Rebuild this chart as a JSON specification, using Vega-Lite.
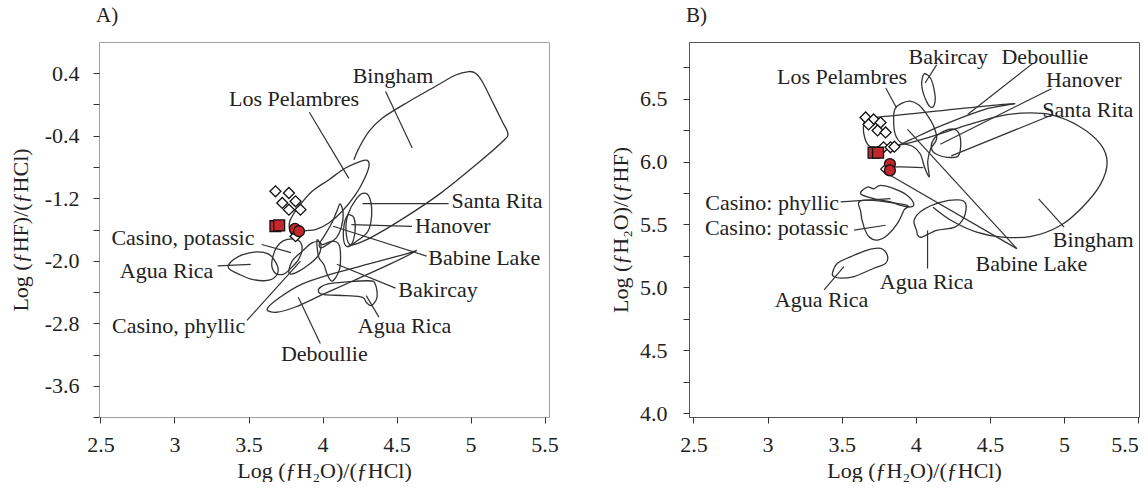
{
  "$schema": "https://vega.github.io/schema/vega-lite/v6.json",
  "background": "white",
  "padding": {"left": 8, "right": 0, "top": 4, "bottom": 0},
  "spacing": 50,
  "config": {
    "font": "Liberation Serif",
    "axis": {"labelFont": "Liberation Serif", "titleFont": "Liberation Serif", "labelFontSize": 22, "titleFontSize": 22, "titleFontWeight": "normal", "labelColor": "#222", "titleColor": "#222", "tickColor": "#333", "domain": false, "grid": false, "tickSize": 6},
    "title": {"font": "Liberation Serif", "fontSize": 21, "fontWeight": "normal", "anchor": "start", "frame": "group", "color": "#222"},
    "text": {"font": "Liberation Serif", "fontSize": 22, "color": "#222"}
  },
  "datasets": {
    "shapesA": [
      {"s":"LP","i":0,"x":3.795,"y":-1.430},{"s":"LP","i":1,"x":3.841,"y":-1.302},{"s":"LP","i":2,"x":3.930,"y":-1.111},{"s":"LP","i":3,"x":4.043,"y":-0.963},{"s":"LP","i":4,"x":4.155,"y":-0.813},{"s":"LP","i":5,"x":4.257,"y":-0.728},{"s":"LP","i":6,"x":4.302,"y":-0.715},{"s":"LP","i":7,"x":4.314,"y":-0.792},{"s":"LP","i":8,"x":4.280,"y":-0.963},{"s":"LP","i":9,"x":4.223,"y":-1.154},{"s":"LP","i":10,"x":4.133,"y":-1.366},{"s":"LP","i":11,"x":4.043,"y":-1.516},{"s":"LP","i":12,"x":3.953,"y":-1.601},{"s":"LP","i":13,"x":3.874,"y":-1.622},{"s":"LP","i":14,"x":3.836,"y":-1.707},{"s":"LP","i":15,"x":3.789,"y":-1.656},{"s":"LP","i":16,"x":3.775,"y":-1.528},
      {"s":"SR","i":0,"x":4.282,"y":-1.135},{"s":"SR","i":1,"x":4.319,"y":-1.199},{"s":"SR","i":2,"x":4.332,"y":-1.411},{"s":"SR","i":3,"x":4.307,"y":-1.622},{"s":"SR","i":4,"x":4.232,"y":-1.748},{"s":"SR","i":5,"x":4.183,"y":-1.792},{"s":"SR","i":6,"x":4.159,"y":-1.622},{"s":"SR","i":7,"x":4.171,"y":-1.411},{"s":"SR","i":8,"x":4.232,"y":-1.199},
      {"s":"HA","i":0,"x":4.183,"y":-1.411},{"s":"HA","i":1,"x":4.213,"y":-1.452},{"s":"HA","i":2,"x":4.220,"y":-1.622},{"s":"HA","i":3,"x":4.195,"y":-1.792},{"s":"HA","i":4,"x":4.159,"y":-1.812},{"s":"HA","i":5,"x":4.141,"y":-1.706},{"s":"HA","i":6,"x":4.146,"y":-1.537},{"s":"HA","i":7,"x":4.164,"y":-1.431},
      {"s":"BL","i":0,"x":4.120,"y":-1.273},{"s":"BL","i":1,"x":4.140,"y":-1.401},{"s":"BL","i":2,"x":4.126,"y":-1.580},{"s":"BL","i":3,"x":4.093,"y":-1.707},{"s":"BL","i":4,"x":4.039,"y":-1.784},{"s":"BL","i":5,"x":3.991,"y":-1.835},{"s":"BL","i":6,"x":3.978,"y":-1.784},{"s":"BL","i":7,"x":4.012,"y":-1.682},{"s":"BL","i":8,"x":4.066,"y":-1.503},{"s":"BL","i":9,"x":4.100,"y":-1.350},
      {"s":"BK","i":0,"x":3.964,"y":-1.729},{"s":"BK","i":1,"x":3.998,"y":-1.793},{"s":"BK","i":2,"x":4.066,"y":-1.749},{"s":"BK","i":3,"x":4.111,"y":-1.793},{"s":"BK","i":4,"x":4.122,"y":-1.963},{"s":"BK","i":5,"x":4.111,"y":-2.133},{"s":"BK","i":6,"x":4.066,"y":-2.260},{"s":"BK","i":7,"x":4.032,"y":-2.176},{"s":"BK","i":8,"x":4.009,"y":-2.048},{"s":"BK","i":9,"x":3.976,"y":-1.963},{"s":"BK","i":10,"x":3.964,"y":-1.835},
      {"s":"CP","i":0,"x":3.660,"y":-1.988},{"s":"CP","i":1,"x":3.687,"y":-1.835},{"s":"CP","i":2,"x":3.734,"y":-1.746},{"s":"CP","i":3,"x":3.802,"y":-1.720},{"s":"CP","i":4,"x":3.849,"y":-1.758},{"s":"CP","i":5,"x":3.862,"y":-1.861},{"s":"CP","i":6,"x":3.836,"y":-1.988},{"s":"CP","i":7,"x":3.789,"y":-2.090},{"s":"CP","i":8,"x":3.741,"y":-2.167},{"s":"CP","i":9,"x":3.687,"y":-2.167},{"s":"CP","i":10,"x":3.660,"y":-2.090},
      {"s":"CY","i":0,"x":3.773,"y":-2.154},{"s":"CY","i":1,"x":3.795,"y":-2.005},{"s":"CY","i":2,"x":3.863,"y":-1.877},{"s":"CY","i":3,"x":3.930,"y":-1.771},{"s":"CY","i":4,"x":3.986,"y":-1.771},{"s":"CY","i":5,"x":3.976,"y":-1.921},{"s":"CY","i":6,"x":3.908,"y":-2.048},{"s":"CY","i":7,"x":3.818,"y":-2.154},
      {"s":"AL","i":0,"x":3.363,"y":-2.065},{"s":"AL","i":1,"x":3.397,"y":-1.988},{"s":"AL","i":2,"x":3.457,"y":-1.924},{"s":"AL","i":3,"x":3.559,"y":-1.886},{"s":"AL","i":4,"x":3.633,"y":-1.912},{"s":"AL","i":5,"x":3.674,"y":-1.988},{"s":"AL","i":6,"x":3.701,"y":-2.116},{"s":"AL","i":7,"x":3.674,"y":-2.218},{"s":"AL","i":8,"x":3.606,"y":-2.256},{"s":"AL","i":9,"x":3.511,"y":-2.231},{"s":"AL","i":10,"x":3.430,"y":-2.167},{"s":"AL","i":11,"x":3.376,"y":-2.116},
      {"s":"DB","i":0,"x":3.626,"y":-2.617},{"s":"DB","i":1,"x":3.713,"y":-2.468},{"s":"DB","i":2,"x":3.861,"y":-2.299},{"s":"DB","i":3,"x":4.059,"y":-2.172},{"s":"DB","i":4,"x":4.307,"y":-2.044},{"s":"DB","i":5,"x":4.554,"y":-1.918},{"s":"DB","i":6,"x":4.630,"y":-1.875},{"s":"DB","i":7,"x":4.455,"y":-2.044},{"s":"DB","i":8,"x":4.208,"y":-2.256},{"s":"DB","i":9,"x":4.010,"y":-2.425},{"s":"DB","i":10,"x":3.812,"y":-2.595},{"s":"DB","i":11,"x":3.689,"y":-2.659},
      {"s":"AR","i":0,"x":3.985,"y":-2.341},{"s":"AR","i":1,"x":4.059,"y":-2.290},{"s":"AR","i":2,"x":4.307,"y":-2.256},{"s":"AR","i":3,"x":4.356,"y":-2.299},{"s":"AR","i":4,"x":4.368,"y":-2.468},{"s":"AR","i":5,"x":4.331,"y":-2.573},{"s":"AR","i":6,"x":4.295,"y":-2.531},{"s":"AR","i":7,"x":4.270,"y":-2.468},{"s":"AR","i":8,"x":4.158,"y":-2.447},{"s":"AR","i":9,"x":4.010,"y":-2.434},{"s":"AR","i":10,"x":3.975,"y":-2.405}
    ],
    "openA": [
      {"s":"BI","i":0,"x":4.212,"y":-0.707},{"s":"BI","i":1,"x":4.246,"y":-0.558},{"s":"BI","i":2,"x":4.314,"y":-0.345},{"s":"BI","i":3,"x":4.403,"y":-0.175},{"s":"BI","i":4,"x":4.584,"y":0.039},{"s":"BI","i":5,"x":4.741,"y":0.208},{"s":"BI","i":6,"x":4.899,"y":0.378},{"s":"BI","i":7,"x":4.989,"y":0.422},{"s":"BI","i":8,"x":5.034,"y":0.400},{"s":"BI","i":9,"x":5.079,"y":0.294},{"s":"BI","i":10,"x":5.147,"y":0.039},{"s":"BI","i":11,"x":5.214,"y":-0.217},{"s":"BI","i":12,"x":5.252,"y":-0.370},{"s":"BI","i":13,"x":5.222,"y":-0.463},{"s":"BI","i":14,"x":5.049,"y":-0.751},{"s":"BI","i":15,"x":4.801,"y":-1.131},{"s":"BI","i":16,"x":4.554,"y":-1.448},{"s":"BI","i":17,"x":4.307,"y":-1.723},{"s":"BI","i":18,"x":4.171,"y":-1.816}
    ],
    "leadersA": [
      {"x":4.426,"y":0.166,"x2":4.606,"y2":-0.558},
      {"x":3.911,"y":-0.099,"x2":4.178,"y2":-0.945},
      {"x":4.270,"y":-1.27,"x2":4.852,"y2":-1.27},
      {"x":4.195,"y":-1.537,"x2":4.604,"y2":-1.559},
      {"x":4.072,"y":-1.559,"x2":4.703,"y2":-1.94},
      {"x":4.097,"y":-2.044,"x2":4.493,"y2":-2.35},
      {"x":4.295,"y":-2.447,"x2":4.381,"y2":-2.721},
      {"x":3.836,"y":-2.468,"x2":3.985,"y2":-3.060},
      {"x":3.851,"y":-2.005,"x2":3.490,"y2":-2.763},
      {"x":3.589,"y":-1.792,"x2":3.787,"y2":-1.896},
      {"x":3.292,"y":-2.066,"x2":3.515,"y2":-2.047}
    ],
    "labelsA": [
      {"t":"Bingham","x":4.476,"y":0.37,"a":"center"},
      {"t":"Los Pelambres","x":3.808,"y":0.07,"a":"center"},
      {"t":"Santa Rita","x":4.871,"y":-1.24,"a":"left"},
      {"t":"Hanover","x":4.624,"y":-1.56,"a":"left"},
      {"t":"Babine Lake","x":4.715,"y":-1.96,"a":"left"},
      {"t":"Bakircay","x":4.512,"y":-2.37,"a":"left"},
      {"t":"Agua Rica","x":4.554,"y":-2.83,"a":"center"},
      {"t":"Deboullie","x":4.012,"y":-3.19,"a":"center"},
      {"t":"Casino, phyllic","x":3.478,"y":-2.83,"a":"right"},
      {"t":"Agua Rica","x":3.262,"y":-2.13,"a":"right"},
      {"t":"Casino, potassic","x":3.540,"y":-1.71,"a":"right"}
    ],
    "pointsA": [
      {"k":"diamond","x":3.818,"y":-1.686},
      {"k":"diamond","x":3.682,"y":-1.111},{"k":"diamond","x":3.773,"y":-1.133},{"k":"diamond","x":3.728,"y":-1.260},{"k":"diamond","x":3.818,"y":-1.239},{"k":"diamond","x":3.773,"y":-1.346},{"k":"diamond","x":3.851,"y":-1.346},
      {"k":"square","x":3.682,"y":-1.558},{"k":"square","x":3.707,"y":-1.548},
      {"k":"circle","x":3.814,"y":-1.592},{"k":"circle","x":3.841,"y":-1.622}
    ],
    "shapesB": [
      {"s":"BK","i":0,"x":4.055,"y":6.695},{"s":"BK","i":1,"x":4.10,"y":6.66},{"s":"BK","i":2,"x":4.125,"y":6.56},{"s":"BK","i":3,"x":4.13,"y":6.48},{"s":"BK","i":4,"x":4.11,"y":6.43},{"s":"BK","i":5,"x":4.075,"y":6.47},{"s":"BK","i":6,"x":4.04,"y":6.60},
      {"s":"CY","i":0,"x":3.628,"y":5.744},{"s":"CY","i":1,"x":3.673,"y":5.797},{"s":"CY","i":2,"x":3.717,"y":5.784},{"s":"CY","i":3,"x":3.762,"y":5.810},{"s":"CY","i":4,"x":3.852,"y":5.784},{"s":"CY","i":5,"x":3.942,"y":5.731},{"s":"CY","i":6,"x":3.986,"y":5.665},{"s":"CY","i":7,"x":3.964,"y":5.639},{"s":"CY","i":8,"x":3.897,"y":5.652},{"s":"CY","i":9,"x":3.830,"y":5.679},{"s":"CY","i":10,"x":3.728,"y":5.702},
      {"s":"CP","i":0,"x":3.639,"y":5.692},{"s":"CP","i":1,"x":3.628,"y":5.600},{"s":"CP","i":2,"x":3.650,"y":5.481},{"s":"CP","i":3,"x":3.684,"y":5.402},{"s":"CP","i":4,"x":3.740,"y":5.376},{"s":"CP","i":5,"x":3.807,"y":5.415},{"s":"CP","i":6,"x":3.875,"y":5.507},{"s":"CP","i":7,"x":3.919,"y":5.613},{"s":"CP","i":8,"x":3.930,"y":5.655},
      {"s":"AL","i":0,"x":3.437,"y":5.112},{"s":"AL","i":1,"x":3.471,"y":5.191},{"s":"AL","i":2,"x":3.561,"y":5.244},{"s":"AL","i":3,"x":3.673,"y":5.297},{"s":"AL","i":4,"x":3.762,"y":5.310},{"s":"AL","i":5,"x":3.807,"y":5.257},{"s":"AL","i":6,"x":3.796,"y":5.191},{"s":"AL","i":7,"x":3.717,"y":5.152},{"s":"AL","i":8,"x":3.583,"y":5.086},{"s":"AL","i":9,"x":3.493,"y":5.073},{"s":"AL","i":10,"x":3.448,"y":5.086},
      {"s":"AR","i":0,"x":4.005,"y":5.453},{"s":"AR","i":1,"x":3.988,"y":5.532},{"s":"AR","i":2,"x":4.042,"y":5.611},{"s":"AR","i":3,"x":4.165,"y":5.676},{"s":"AR","i":4,"x":4.288,"y":5.695},{"s":"AR","i":5,"x":4.337,"y":5.663},{"s":"AR","i":6,"x":4.325,"y":5.558},{"s":"AR","i":7,"x":4.263,"y":5.479},{"s":"AR","i":8,"x":4.140,"y":5.453},{"s":"AR","i":9,"x":4.042,"y":5.400},{"s":"AR","i":10,"x":4.013,"y":5.413},
      {"s":"HS","i":0,"x":4.19,"y":6.242},{"s":"HS","i":1,"x":4.263,"y":6.255},{"s":"HS","i":2,"x":4.30,"y":6.189},{"s":"HS","i":3,"x":4.293,"y":6.058},{"s":"HS","i":4,"x":4.239,"y":6.032},{"s":"HS","i":5,"x":4.140,"y":6.058},{"s":"HS","i":6,"x":4.104,"y":6.111},{"s":"HS","i":7,"x":4.128,"y":6.189},
      {"s":"LP","i":0,"x":3.85,"y":6.34},{"s":"LP","i":1,"x":3.86,"y":6.42},{"s":"LP","i":2,"x":3.90,"y":6.46},{"s":"LP","i":3,"x":3.96,"y":6.48},{"s":"LP","i":4,"x":4.02,"y":6.45},{"s":"LP","i":5,"x":4.07,"y":6.38},{"s":"LP","i":6,"x":4.12,"y":6.28},{"s":"LP","i":7,"x":4.14,"y":6.18},{"s":"LP","i":8,"x":4.10,"y":6.10},{"s":"LP","i":9,"x":4.08,"y":6.00},{"s":"LP","i":10,"x":4.09,"y":5.88},{"s":"LP","i":11,"x":4.06,"y":5.95},{"s":"LP","i":12,"x":4.03,"y":6.06},{"s":"LP","i":13,"x":3.98,"y":6.12},{"s":"LP","i":14,"x":3.90,"y":6.15},{"s":"LP","i":15,"x":3.86,"y":6.22},
      {"s":"DB","i":0,"x":3.748,"y":6.353},{"s":"DB","i":1,"x":4.632,"y":6.458},{"s":"DB","i":2,"x":4.460,"y":6.413},{"s":"DB","i":3,"x":4.165,"y":6.282},{"s":"DB","i":4,"x":3.969,"y":6.176},{"s":"DB","i":5,"x":3.870,"y":6.124},{"s":"DB","i":6,"x":3.772,"y":6.111},{"s":"DB","i":7,"x":3.686,"y":6.124},{"s":"DB","i":8,"x":3.650,"y":6.216},{"s":"DB","i":9,"x":3.655,"y":6.321},{"s":"DB","i":10,"x":3.700,"y":6.353}
    ],
    "openB": [
      {"s":"BI","i":0,"x":3.870,"y":6.124},{"s":"BI","i":1,"x":4.042,"y":6.176},{"s":"BI","i":2,"x":4.288,"y":6.268},{"s":"BI","i":3,"x":4.533,"y":6.353},{"s":"BI","i":4,"x":4.705,"y":6.384},{"s":"BI","i":5,"x":4.902,"y":6.374},{"s":"BI","i":6,"x":5.098,"y":6.282},{"s":"BI","i":7,"x":5.246,"y":6.137},{"s":"BI","i":8,"x":5.290,"y":5.992},{"s":"BI","i":9,"x":5.246,"y":5.821},{"s":"BI","i":10,"x":5.123,"y":5.637},{"s":"BI","i":11,"x":4.975,"y":5.492},{"s":"BI","i":12,"x":4.779,"y":5.405},{"s":"BI","i":13,"x":4.583,"y":5.400},{"s":"BI","i":14,"x":4.411,"y":5.439},{"s":"BI","i":15,"x":4.239,"y":5.532},{"s":"BI","i":16,"x":4.116,"y":5.637},
      {"s":"BL","i":0,"x":3.80,"y":5.955},{"s":"BL","i":1,"x":3.90,"y":5.958},{"s":"BL","i":2,"x":4.05,"y":5.952}
    ],
    "leadersB": [
      {"x":4.140,"y":6.768,"x2":4.062,"y2":6.624},
      {"x":4.791,"y":6.782,"x2":4.349,"y2":6.374},
      {"x":3.797,"y":6.584,"x2":3.870,"y2":6.426},
      {"x":4.914,"y":6.579,"x2":4.165,"y2":6.137},
      {"x":4.926,"y":6.374,"x2":4.239,"y2":6.045},
      {"x":3.493,"y":5.679,"x2":3.829,"y2":5.705},
      {"x":3.583,"y":5.455,"x2":3.796,"y2":5.494},
      {"x":3.515,"y":5.165,"x2":3.381,"y2":4.981},
      {"x":4.079,"y":5.453,"x2":4.079,"y2":5.150},
      {"x":5.0,"y":5.479,"x2":4.828,"y2":5.703},
      {"x":4.681,"y":5.308,"x2":3.944,"y2":6.255},
      {"x":4.681,"y":5.308,"x2":3.821,"y2":5.895}
    ],
    "labelsB": [
      {"t":"Bakircay","x":4.219,"y":6.834,"a":"center"},
      {"t":"Deboullie","x":4.870,"y":6.834,"a":"center"},
      {"t":"Los Pelambres","x":3.502,"y":6.668,"a":"center"},
      {"t":"Hanover","x":4.877,"y":6.650,"a":"left"},
      {"t":"Santa Rita","x":4.853,"y":6.413,"a":"left"},
      {"t":"Casino: phyllic","x":3.482,"y":5.668,"a":"right"},
      {"t":"Casino: potassic","x":3.546,"y":5.474,"a":"right"},
      {"t":"Agua Rica","x":3.364,"y":4.90,"a":"center"},
      {"t":"Agua Rica","x":4.072,"y":5.045,"a":"center"},
      {"t":"Bingham","x":5.196,"y":5.374,"a":"center"},
      {"t":"Babine Lake","x":4.779,"y":5.189,"a":"center"}
    ],
    "pointsB": [
      {"k":"diamond","x":3.80,"y":5.94},
      {"k":"diamond","x":3.661,"y":6.350},{"k":"diamond","x":3.715,"y":6.334},{"k":"diamond","x":3.681,"y":6.295},{"k":"diamond","x":3.762,"y":6.310},{"k":"diamond","x":3.742,"y":6.247},{"k":"diamond","x":3.796,"y":6.231},{"k":"diamond","x":3.782,"y":6.113},{"k":"diamond","x":3.829,"y":6.113},{"k":"diamond","x":3.855,"y":6.118},
      {"k":"square","x":3.715,"y":6.07},{"k":"square","x":3.745,"y":6.07},
      {"k":"circle","x":3.825,"y":5.98},{"k":"circle","x":3.825,"y":5.93}
    ]
  },
  "hconcat": [
    {
      "title": {"text": "A)", "offset": 16, "dx": -3},
      "width": 450, "height": 375,
      "view": {"stroke": "#a0a0a0"},
      "encoding": {
        "x": {"field": "x", "type": "quantitative", "scale": {"domain": [2.49, 5.53], "nice": false, "zero": false},
              "axis": {"title": "Log (ƒH₂O)/(ƒHCl)", "values": [2.5, 3, 3.5, 4, 4.5, 5, 5.5], "format": "~g", "labelPadding": 11, "titlePadding": 5}},
        "y": {"field": "y", "type": "quantitative", "scale": {"domain": [-4.0, 0.8], "nice": false, "zero": false},
              "axis": {"title": "Log (ƒHF)/(ƒHCl)", "values": [-4.0, -3.6, -3.2, -2.8, -2.4, -2.0, -1.6, -1.2, -0.8, -0.4, 0, 0.4], "labelExpr": "(round(datum.value*10)+36) % 8 == 0 ? replace(format(datum.value, '.1f'), '\u2212', '-') : ''", "labelPadding": 14, "titlePadding": 12}}
      },
      "layer": [
        {"data": {"name": "shapesA"}, "mark": {"type": "line", "interpolate": "cardinal-closed", "color": "#333", "strokeWidth": 1.3},
         "encoding": {"detail": {"field": "s"}, "order": {"field": "i", "type": "quantitative"}}},
        {"data": {"name": "openA"}, "mark": {"type": "line", "interpolate": "cardinal", "color": "#333", "strokeWidth": 1.3},
         "encoding": {"detail": {"field": "s"}, "order": {"field": "i", "type": "quantitative"}}},
        {"data": {"name": "leadersA"}, "mark": {"type": "rule", "color": "#333", "strokeWidth": 1.2},
         "encoding": {"x2": {"field": "x2"}, "y2": {"field": "y2"}}},
        {"data": {"name": "labelsA"}, "transform": [{"filter": "datum.a == 'left'"}], "mark": {"type": "text", "align": "left", "baseline": "middle"}, "encoding": {"text": {"field": "t"}}},
        {"data": {"name": "labelsA"}, "transform": [{"filter": "datum.a == 'center'"}], "mark": {"type": "text", "align": "center", "baseline": "middle"}, "encoding": {"text": {"field": "t"}}},
        {"data": {"name": "labelsA"}, "transform": [{"filter": "datum.a == 'right'"}], "mark": {"type": "text", "align": "right", "baseline": "middle"}, "encoding": {"text": {"field": "t"}}},
        {"data": {"name": "pointsA"}, "mark": {"type": "point", "filled": true, "stroke": "#111", "strokeWidth": 1.3, "size": 120, "opacity": 1},
         "encoding": {
           "shape": {"field": "k", "type": "nominal", "scale": {"domain": ["diamond", "square", "circle"], "range": ["diamond", "square", "circle"]}, "legend": null},
           "fill": {"field": "k", "type": "nominal", "scale": {"domain": ["diamond", "square", "circle"], "range": ["#ffffff", "#c1272d", "#c1272d"]}, "legend": null}
         }}
      ]
    },
    {
      "title": {"text": "B)", "offset": 16, "dx": -3},
      "width": 450, "height": 375,
      "view": {"stroke": "#555"},
      "encoding": {
        "x": {"field": "x", "type": "quantitative", "scale": {"domain": [2.47, 5.505], "nice": false, "zero": false},
              "axis": {"title": "Log (ƒH₂O)/(ƒHCl)", "values": [2.5, 3, 3.5, 4, 4.5, 5, 5.5], "format": "~g", "labelPadding": 11, "titlePadding": 5}},
        "y": {"field": "y", "type": "quantitative", "scale": {"domain": [3.97, 6.95], "nice": false, "zero": false},
              "axis": {"title": "Log (ƒH₂O)/(ƒHF)", "values": [4.0, 4.25, 4.5, 4.75, 5.0, 5.25, 5.5, 5.75, 6.0, 6.25, 6.5, 6.75], "labelExpr": "round(datum.value*4) % 2 == 0 ? format(datum.value, '.1f') : ''", "labelPadding": 16, "titlePadding": 7}}
      },
      "layer": [
        {"data": {"name": "shapesB"}, "mark": {"type": "line", "interpolate": "cardinal-closed", "color": "#333", "strokeWidth": 1.3},
         "encoding": {"detail": {"field": "s"}, "order": {"field": "i", "type": "quantitative"}}},
        {"data": {"name": "openB"}, "mark": {"type": "line", "interpolate": "cardinal", "color": "#333", "strokeWidth": 1.3},
         "encoding": {"detail": {"field": "s"}, "order": {"field": "i", "type": "quantitative"}}},
        {"data": {"name": "leadersB"}, "mark": {"type": "rule", "color": "#333", "strokeWidth": 1.2},
         "encoding": {"x2": {"field": "x2"}, "y2": {"field": "y2"}}},
        {"data": {"name": "labelsB"}, "transform": [{"filter": "datum.a == 'left'"}], "mark": {"type": "text", "align": "left", "baseline": "middle"}, "encoding": {"text": {"field": "t"}}},
        {"data": {"name": "labelsB"}, "transform": [{"filter": "datum.a == 'center'"}], "mark": {"type": "text", "align": "center", "baseline": "middle"}, "encoding": {"text": {"field": "t"}}},
        {"data": {"name": "labelsB"}, "transform": [{"filter": "datum.a == 'right'"}], "mark": {"type": "text", "align": "right", "baseline": "middle"}, "encoding": {"text": {"field": "t"}}},
        {"data": {"name": "pointsB"}, "mark": {"type": "point", "filled": true, "stroke": "#111", "strokeWidth": 1.3, "size": 120, "opacity": 1},
         "encoding": {
           "shape": {"field": "k", "type": "nominal", "scale": {"domain": ["diamond", "square", "circle"], "range": ["diamond", "square", "circle"]}, "legend": null},
           "fill": {"field": "k", "type": "nominal", "scale": {"domain": ["diamond", "square", "circle"], "range": ["#ffffff", "#c1272d", "#c1272d"]}, "legend": null}
         }}
      ]
    }
  ]
}
